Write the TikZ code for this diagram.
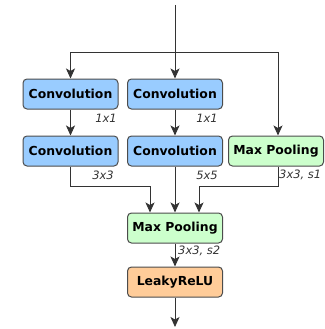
\documentclass[tikz,border=0pt]{standalone}
\usepackage{fontspec}
\setmainfont{DejaVu Sans}
\usepackage{xcolor}
\usetikzlibrary{arrows.meta}

\definecolor{convblue}{HTML}{99CCFF}
\definecolor{poolgreen}{HTML}{CCFFCC}
\definecolor{actorange}{HTML}{FFCC99}

\tikzset{
  layer/.style={draw=black!70, line width=1pt, rounded corners=4pt,
    minimum width=95pt, minimum height=30pt, inner sep=0pt,
    font=\fontsize{12.4}{14}\selectfont\bfseries},
  conv/.style={layer, fill=convblue},
  pool/.style={layer, fill=poolgreen},
  act/.style={layer, fill=actorange},
  size/.style={font=\fontsize{11.5}{13}\selectfont\itshape, inner sep=0pt, text=black!80},
  arr/.style={draw=black!80, line width=0.9pt, -{Stealth[length=10pt,width=9pt,inset=2.5pt]}}
}

\begin{document}
\begin{tikzpicture}[x=1pt, y=-1pt]
\useasboundingbox (0,0) rectangle (324,329);

% the four branches
\node[conv] (conv11) at (70.5, 94) {Convolution};
\node[conv] (conv12) at (175, 94) {Convolution};
\node[conv] (conv21) at (70.5,151) {Convolution};
\node[conv] (conv22) at (175,151) {Convolution};
\node[pool] (pool1) at (276,151) {Max Pooling};

% merge and output
\node[pool] (pool2) at (175,228) {Max Pooling};
\node[act] (relu) at (175,282) {LeakyReLU};

% kernel sizes
\node[size, anchor=east] (k11) at (117,118) {1x1};
\node[size, anchor=east] (k12) at (218,118) {1x1};
\node[size, anchor=east] (k21) at (114,175) {3x3};
\node[size, anchor=east] (k22) at (218,175) {5x5};
\node[size, anchor=west] (k23) at (279,175) {3x3, s1};
\node[size, anchor=west] (k3) at (178,251) {3x3, s2};

\coordinate (in) at (175,5);
\coordinate (split) at (175,52);
\coordinate (joinl) at (150,186);
\coordinate (joinr) at (199,186);
\coordinate (out) at (175,327);

% input split
\draw[arr] (in) -- (conv12);
\draw[arr] (split) -| (conv11);
\draw[arr] (split) -| ([xshift=2pt]pool1.north);

\draw[arr] (conv11) -- (conv21);
\draw[arr] (conv12) -- (conv22);

% into the merging pool
\draw[arr] (conv21) |- (joinl) -- (joinl |- pool2.north);
\draw[arr] (conv22) -- (pool2);
\draw[arr] ([xshift=2pt]pool1.south) |- (joinr) -- (joinr |- pool2.north);

\draw[arr] (pool2) -- (relu);
\draw[arr] (relu) -- (out);
\end{tikzpicture}
\end{document}
